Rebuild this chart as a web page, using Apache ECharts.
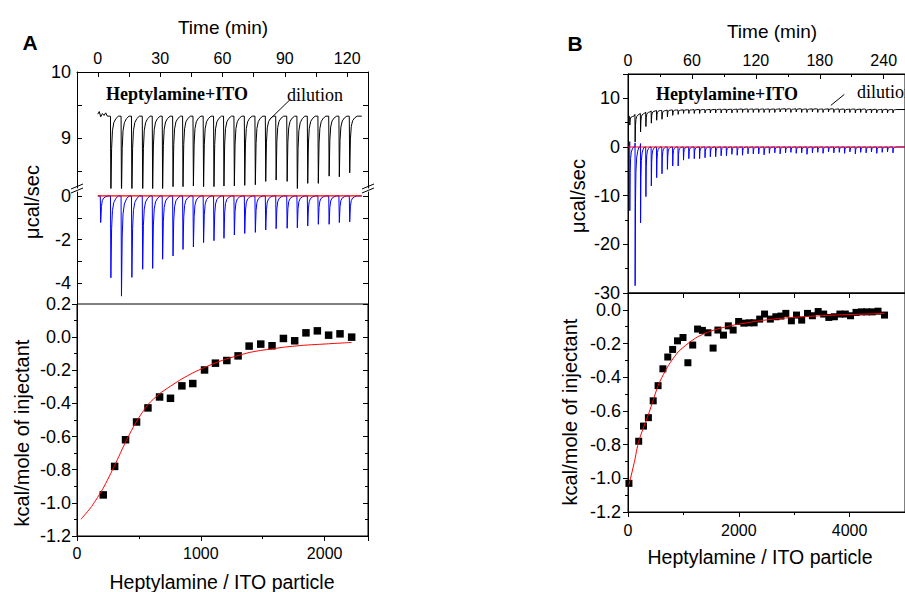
<!DOCTYPE html>
<html><head><meta charset="utf-8">
<script src="https://cdn.jsdelivr.net/npm/echarts@6/dist/echarts.min.js"></script>
<style>html,body{margin:0;padding:0;background:#fff}#c{width:905px;height:592px}</style>
</head><body><div id="c"></div>
<script>
// ---------------- Panel A: raw thermogram (time in min) ----------------
const injTimesA = [1.2, 6.1, 11.2, 16.2, 21.4, 26.2, 31, 36, 40.8, 45.8, 50.7, 55.7, 60.5, 65.5, 70.5, 75.6, 80.6, 85.6, 90.9, 95.8, 100.8, 105.9, 111.1, 116, 121];
const bluePeakA = [-1.22, -3.75, -4.59, -3.73, -3.36, -3.32, -2.90, -2.75, -2.45, -2.34, -2.14, -2.05, -1.94, -1.79, -1.72, -1.67, -1.56, -1.50, -1.48, -1.46, -1.38, -1.30, -1.30, -1.22, -1.19];
const blackTimesA = [6.1, 11.2, 16.2, 21.4, 26.2, 31, 36, 40.8, 45.8, 50.7, 55.7, 60.5, 65.5, 70.5, 75.6, 80.6, 85.6, 90.9, 95.8, 100.8, 105.9, 111.1, 116, 121];
const blackPeakA = [8.1, 8.1, 8.1, 8.1, 8.2, 8.22, 8.26, 8.26, 8.27, 8.26, 8.26, 8.27, 8.27, 8.28, 8.29, 8.34, 8.36, 8.34, 8.1, 8.31, 8.31, 8.42, 8.41, 8.47];
const blackBaseA = 9.33;
const blackStartA = [[0, 9.36], [0.7, 9.40], [1.4, 9.32], [2.2, 9.37], [3.0, 9.34], [3.8, 9.38], [4.6, 9.33], [5.5, 9.33]];
const endTimeA = 127;
const redBaseA = [[0, 0], [127, 0]];
const arrowA = [[92.8, 9.59], [82.7, 9.28]];

// ---------------- Panel A: integrated heats ----------------
const ratioA = [212, 304, 392, 481, 573, 667, 755, 847, 935, 1030, 1118, 1210, 1301, 1390, 1484, 1575, 1667, 1758, 1849, 1941, 2032, 2124, 2218];
const heatA = [-0.952, -0.780, -0.619, -0.512, -0.427, -0.361, -0.369, -0.294, -0.280, -0.198, -0.157, -0.141, -0.113, -0.054, -0.042, -0.052, -0.008, -0.022, 0.026, 0.038, 0.012, 0.020, 0.000];
const fitRatioA = [32, 118, 212, 304, 401, 481, 573, 667, 755, 847, 935, 1030, 1118, 1210, 1301, 1390, 1484, 1575, 1667, 1758, 1849, 1941, 2032, 2124, 2218];
const fitHeatA = [-1.099, -1.022, -0.911, -0.774, -0.619, -0.508, -0.407, -0.341, -0.296, -0.252, -0.216, -0.183, -0.155, -0.131, -0.111, -0.093, -0.080, -0.071, -0.061, -0.054, -0.048, -0.044, -0.040, -0.036, -0.032];

// ---------------- Panel B: raw thermogram ----------------
const injTimesB = [1.5, 6.5, 11.6, 16.6, 21.7, 26.7, 31.7, 36.8, 41.8, 46.9, 51.9, 56.9, 62.0, 67.0, 72.1, 77.1, 82.1, 87.2, 92.2, 97.3, 102.3, 107.3, 112.4, 117.4, 122.5, 127.5, 132.5, 137.6, 142.6, 147.7, 152.7, 157.7, 162.8, 167.8, 172.9, 177.9, 182.9, 188.0, 193.0, 198.1, 203.1, 208.1, 213.2, 218.2, 223.3, 228.3, 233.3, 238.4, 243.4, 248.5];
const bluePeakB = [-13.1, -28.5, -15.6, -10.2, -8.0, -6.3, -5.5, -4.6, -3.9, -3.9, -2.7, -2.4, -2.4, -2.4, -2.2, -2.0, -2.0, -1.8, -1.8, -1.5, -1.7, -1.7, -1.4, -1.4, -1.4, -1.6, -1.3, -1.2, -1.4, -1.2, -1.1, -1.3, -1.2, -1.5, -1.2, -1.1, -1.3, -1.0, -1.2, -1.1, -1.3, -1.0, -1.4, -1.1, -1.2, -1.0, -1.3, -1.1, -1.0, -1.2];
const blueRiseB = [1.1, 0.8, 0.7];
const blackBaseB = [6.3, 6.7, 6.9, 7.2, 7.4, 7.5, 7.5, 7.6, 7.6, 7.6, 7.65, 7.65, 7.7, 7.7, 7.7, 7.7, 7.75, 7.75, 7.75, 7.75, 7.8, 7.8, 7.8, 7.8, 7.8, 7.8, 7.8, 7.8, 7.85, 7.85, 7.8, 7.85, 7.8, 7.8, 7.85, 7.8, 7.8, 7.85, 7.8, 7.8, 7.75, 7.8, 7.75, 7.8, 7.7, 7.75, 7.7, 7.75, 7.7, 7.7];
const blackPeakB = [4.5, 1.0, 3.1, 4.2, 4.9, 5.5, 5.7, 6.2, 6.5, 6.7, 6.9, 6.9, 6.9, 6.9, 7.0, 7.0, 7.0, 7.0, 7.0, 7.0, 7.1, 7.1, 7.1, 7.1, 7.1, 7.1, 7.1, 7.1, 7.2, 7.2, 7.1, 7.2, 7.1, 7.1, 7.2, 7.1, 7.1, 7.2, 7.1, 7.1, 7.0, 7.1, 7.0, 7.1, 7.0, 7.0, 7.0, 7.0, 7.0, 7.0];
const blackStartB = [[0, 6.2]];
const blueStartB = [[0, 0]];
const endTimeB = 260;
const redBaseB = [[0, 0], [260, 0]];
const arrowB = [[203, 10.8], [190.4, 8.55]];

// ---------------- Panel B: integrated heats ----------------
const ratioB = [17, 193, 280, 368, 455, 543, 630, 718, 806, 893, 993, 1081, 1168, 1256, 1343, 1443, 1536, 1623, 1723, 1811, 1898, 1997, 2091, 2189, 2277, 2377, 2465, 2569, 2669, 2760, 2849, 2949, 3042, 3135, 3240, 3328, 3433, 3532, 3625, 3725, 3825, 3923, 4017, 4116, 4215, 4308, 4408, 4513, 4630];
const heatB = [-1.03, -0.78, -0.69, -0.64, -0.54, -0.45, -0.35, -0.28, -0.235, -0.184, -0.164, -0.314, -0.209, -0.114, -0.122, -0.136, -0.227, -0.12, -0.15, -0.095, -0.12, -0.069, -0.079, -0.077, -0.077, -0.055, -0.025, -0.055, -0.041, -0.037, -0.021, -0.065, -0.031, -0.061, -0.021, -0.035, -0.01, -0.025, -0.045, -0.041, -0.025, -0.025, -0.035, -0.015, -0.012, -0.012, -0.012, -0.008, -0.031];
const fitRatioB = [17, 117, 193, 380, 555, 730, 905, 1081, 1256, 1431, 1606, 1781, 1956, 2131, 2306, 2700, 3100, 3475, 3900, 4300, 4630];
const fitHeatB = [-1.04, -0.90, -0.78, -0.61, -0.44, -0.33, -0.25, -0.20, -0.16, -0.134, -0.114, -0.10, -0.087, -0.078, -0.068, -0.052, -0.042, -0.035, -0.029, -0.025, -0.021];

// shape of one injection peak: [minutes after injection, fraction of the depth]
const spikeShape = [[0.2, 1], [0.55, 0.4], [0.95, 0.18], [1.6, 0.08], [2.6, 0.03], [3.8, 0]];

// ---------------- build ----------------
function buildTrace(startPts, endT, times, bases, peaks, rises) {
  const out = startPts.slice();
  times.forEach((t, i) => {
    const b = bases[i];
    out.push([t, b]);
    if (rises && rises[i]) out.push([t + 0.1, rises[i]]);
    spikeShape.forEach(([dt, f]) => out.push([t + dt, +(b + f * (peaks[i] - b)).toFixed(3)]));
  });
  out.push([endT, bases[bases.length - 1]]);
  return out;
}
const zip = (a, b) => a.map((v, i) => [v, b[i]]);

const blackA = buildTrace(blackStartA, endTimeA, blackTimesA, blackTimesA.map(() => blackBaseA), blackPeakA);
const blueA = buildTrace([[0, 0]], endTimeA, injTimesA, injTimesA.map(() => 0), bluePeakA);
const blackB = buildTrace(blackStartB, endTimeB, injTimesB, blackBaseB, blackPeakB);
const blueB = buildTrace(blueStartB, endTimeB, injTimesB, injTimesB.map(() => 0), bluePeakB, blueRiseB);

const SANS = '"Liberation Sans", Arial, sans-serif';
const SERIF = '"Liberation Serif", "Times New Roman", serif';
const BLK = { color: '#000', width: 1 };
const fmt1 = v => Math.abs(v) < 1e-9 ? '0.0' : v.toFixed(1);
const fmt0 = v => String(Math.round(v));
const xLab = { color: '#000', fontSize: 16, fontFamily: SANS };
const yLab = { color: '#000', fontSize: 18, fontFamily: SANS };
const LINE = { show: true, onZero: false, lineStyle: BLK };

const chart = echarts.init(document.getElementById('c'), null, { renderer: 'svg' });

const GA = { left: 77, width: 291 };
const GB = { left: 628, width: 286 };

const option = {
  animation: false,
  backgroundColor: '#fff',
  grid: [
    { left: GA.left, width: GA.width, top: 72, height: 116 },
    { left: GA.left, width: GA.width, top: 192, height: 112 },
    { left: GA.left, width: GA.width, top: 304, height: 232, show: true, borderColor: '#000', borderWidth: 1 },
    { left: GB.left, width: GB.width, top: 74, height: 219, show: true, borderColor: '#000', borderWidth: 1 },
    { left: GB.left, width: GB.width, top: 293, height: 219, show: true, borderColor: '#000', borderWidth: 1 }
  ],
  xAxis: [
    { gridIndex: 0, type: 'value', position: 'top', min: -10, max: 130,
      axisLine: LINE,
      axisTick: { show: true, inside: true, length: 5, lineStyle: BLK, customValues: [0, 15, 30, 45, 60, 75, 90, 105, 120] },
      axisLabel: Object.assign({ margin: 6, customValues: [0, 30, 60, 90, 120], formatter: fmt0 }, xLab),
      splitLine: { show: false } },
    { gridIndex: 1, type: 'value', min: -10, max: 130, show: false, axisLine: { onZero: false } },
    { gridIndex: 2, type: 'value', min: 0, max: 2350, interval: 1000,
      axisLine: LINE,
      axisTick: { show: true, inside: false, length: 5, lineStyle: BLK },
      minorTick: { show: true, splitNumber: 2, length: 3, lineStyle: BLK },
      axisLabel: Object.assign({ margin: 9, showMaxLabel: false, formatter: fmt0 }, xLab),
      splitLine: { show: false } },
    { gridIndex: 3, type: 'value', position: 'top', min: 0, max: 260, interval: 60,
      axisLine: LINE,
      axisTick: { show: true, inside: true, length: 5, lineStyle: BLK },
      minorTick: { show: true, splitNumber: 2, length: 3, lineStyle: BLK },
      axisLabel: Object.assign({ margin: 6, showMaxLabel: false, formatter: fmt0 }, xLab),
      splitLine: { show: false } },
    { gridIndex: 4, type: 'value', min: 0, max: 5000, interval: 2000,
      axisLine: LINE,
      axisTick: { show: true, inside: false, length: 5, lineStyle: BLK },
      minorTick: { show: true, splitNumber: 2, length: 3, lineStyle: BLK },
      axisLabel: Object.assign({ margin: 10, showMaxLabel: false, formatter: fmt0 }, xLab),
      splitLine: { show: false } },
    { gridIndex: 4, type: 'value', position: 'top', min: 0, max: 5000, interval: 1000,
      axisLine: LINE,
      axisTick: { show: true, inside: true, length: 5, lineStyle: BLK },
      axisLabel: { show: false }, splitLine: { show: false } }
  ],
  yAxis: [
    { gridIndex: 0, type: 'value', min: 8.24, max: 10,
      axisLine: LINE,
      axisTick: { show: true, inside: true, length: 5, lineStyle: BLK, customValues: [8.5, 9, 9.5, 10] },
      axisLabel: Object.assign({ margin: 6, customValues: [9, 10] }, yLab),
      splitLine: { show: false } },
    { gridIndex: 0, type: 'value', position: 'right', min: 8.24, max: 10,
      axisLine: LINE,
      axisTick: { show: true, inside: true, length: 5, lineStyle: BLK, customValues: [8.5, 9, 9.5, 10] },
      axisLabel: { show: false }, splitLine: { show: false } },
    { gridIndex: 1, type: 'value', min: -4.95, max: 0.18,
      axisLine: LINE,
      axisTick: { show: true, inside: true, length: 5, lineStyle: BLK, customValues: [-4, -3, -2, -1, 0] },
      axisLabel: Object.assign({ margin: 6, customValues: [-4, -2, 0] }, yLab),
      splitLine: { show: false } },
    { gridIndex: 1, type: 'value', position: 'right', min: -4.95, max: 0.18,
      axisLine: LINE,
      axisTick: { show: true, inside: true, length: 5, lineStyle: BLK, customValues: [-4, -3, -2, -1, 0] },
      axisLabel: { show: false }, splitLine: { show: false } },
    { gridIndex: 2, type: 'value', min: -1.2, max: 0.2, interval: 0.2,
      axisLine: LINE,
      axisTick: { show: true, inside: false, length: 5, lineStyle: BLK },
      minorTick: { show: true, splitNumber: 2, length: 3, lineStyle: BLK },
      axisLabel: Object.assign({ margin: 6, formatter: fmt1 }, yLab),
      splitLine: { show: false } },
    { gridIndex: 2, type: 'value', position: 'right', min: -1.2, max: 0.2, interval: 0.2,
      axisLine: LINE,
      axisTick: { show: true, inside: true, length: 5, lineStyle: BLK },
      minorTick: { show: true, splitNumber: 2, length: 3, lineStyle: BLK },
      axisLabel: { show: false }, splitLine: { show: false } },
    { gridIndex: 3, type: 'value', min: -30, max: 15, interval: 10,
      axisLine: LINE,
      axisTick: { show: true, inside: false, length: 5, lineStyle: BLK },
      minorTick: { show: true, splitNumber: 2, length: 3, lineStyle: BLK },
      axisLabel: Object.assign({ margin: 8, showMaxLabel: false }, yLab),
      splitLine: { show: false } },
    { gridIndex: 4, type: 'value', min: -1.2, max: 0.1, interval: 0.2,
      axisLine: LINE,
      axisTick: { show: true, inside: false, length: 5, lineStyle: BLK },
      minorTick: { show: true, splitNumber: 2, length: 3, lineStyle: BLK },
      axisLabel: Object.assign({ margin: 7, showMaxLabel: false, formatter: fmt1 }, yLab),
      splitLine: { show: false } }
  ],
  series: [
    { type: 'line', name: 'dilution A', xAxisIndex: 0, yAxisIndex: 0, data: blackA, showSymbol: false, symbol: 'none',
      lineStyle: { color: '#000', width: 1 }, clip: true, z: 3,
      markLine: { silent: true, symbol: ['none', 'arrow'], symbolSize: [0, 8], label: { show: false },
        lineStyle: { color: '#000', width: 1, type: 'solid' },
        data: [[{ coord: arrowA[0] }, { coord: arrowA[1] }]] } },
    { type: 'line', name: 'titration A', xAxisIndex: 1, yAxisIndex: 2, data: blueA, showSymbol: false, symbol: 'none',
      lineStyle: { color: '#0000ff', width: 1 }, clip: true, z: 3 },
    { type: 'line', name: 'baseline A', xAxisIndex: 1, yAxisIndex: 2, data: redBaseA, showSymbol: false, symbol: 'none',
      lineStyle: { color: '#ff0000', width: 1.2 }, z: 4 },
    { type: 'line', name: 'fit A', xAxisIndex: 2, yAxisIndex: 4, data: zip(fitRatioA, fitHeatA), showSymbol: false, symbol: 'none',
      smooth: 0.2, lineStyle: { color: '#ff0000', width: 1 }, z: 4 },
    { type: 'scatter', name: 'heat A', xAxisIndex: 2, yAxisIndex: 4, data: zip(ratioA, heatA), symbol: 'rect', symbolSize: 7.5,
      itemStyle: { color: '#000', opacity: 1 }, z: 3 },
    { type: 'line', name: 'dilution B', xAxisIndex: 3, yAxisIndex: 6, data: blackB, showSymbol: false, symbol: 'none',
      lineStyle: { color: '#000', width: 1 }, clip: true, z: 3,
      markLine: { silent: true, symbol: ['none', 'arrow'], symbolSize: [0, 8], label: { show: false },
        lineStyle: { color: '#000', width: 1, type: 'solid' },
        data: [[{ coord: arrowB[0] }, { coord: arrowB[1] }]] } },
    { type: 'line', name: 'titration B', xAxisIndex: 3, yAxisIndex: 6, data: blueB, showSymbol: false, symbol: 'none',
      lineStyle: { color: '#0000ff', width: 1 }, clip: true, z: 3 },
    { type: 'line', name: 'baseline B', xAxisIndex: 3, yAxisIndex: 6, data: redBaseB, showSymbol: false, symbol: 'none',
      lineStyle: { color: '#ff0000', width: 1.2 }, z: 4 },
    { type: 'line', name: 'fit B', xAxisIndex: 4, yAxisIndex: 7, data: zip(fitRatioB, fitHeatB), showSymbol: false, symbol: 'none',
      smooth: 0.2, lineStyle: { color: '#ff0000', width: 1 }, z: 4 },
    { type: 'scatter', name: 'heat B', xAxisIndex: 4, yAxisIndex: 7, data: zip(ratioB, heatB), symbol: 'rect', symbolSize: 7,
      itemStyle: { color: '#000', opacity: 1 }, z: 3 }
  ]
};

// text and break marks
function txt(x, y, text, font, align, rot) {
  return { type: 'text', x: x, y: y, rotation: rot || 0, z: 10,
    style: { text: text, font: font, fill: '#000', textAlign: align || 'center', textVerticalAlign: 'middle', align: align || 'center', verticalAlign: 'middle' } };
}
function brk(x, y) {
  return [
    { type: 'line', z: 10, shape: { x1: x - 6, y1: y + 2, x2: x + 6, y2: y - 3 }, style: { stroke: '#000', lineWidth: 1 } },
    { type: 'line', z: 10, shape: { x1: x - 6, y1: y + 6, x2: x + 6, y2: y + 1 }, style: { stroke: '#000', lineWidth: 1 } }
  ];
}
const R = Math.PI / 2;
option.graphic = [
  txt(30, 42, 'A', 'bold 21px ' + SANS),
  txt(575, 43, 'B', 'bold 21px ' + SANS),
  txt(223, 27, 'Time (min)', '19px ' + SANS),
  txt(772, 31, 'Time (min)', '19px ' + SANS),
  txt(32, 202, 'μcal/sec', '20px ' + SANS, 'center', R),
  txt(22, 433, 'kcal/mole of injectant', '20px ' + SANS, 'center', R),
  txt(222, 582, 'Heptylamine / ITO particle', '19.5px ' + SANS),
  txt(578, 196, 'μcal/sec', '20px ' + SANS, 'center', R),
  txt(570, 412, 'kcal/mole of injectant', '20px ' + SANS, 'center', R),
  txt(760, 557, 'Heptylamine / ITO particle', '19.5px ' + SANS),
  txt(106, 94, 'Heptylamine+ITO', 'bold 18px ' + SERIF, 'left'),
  txt(287, 95, 'dilution', '18px ' + SERIF, 'left'),
  txt(656, 94, 'Heptylamine+ITO', 'bold 18px ' + SERIF, 'left'),
  txt(857, 92, 'dilution', '18px ' + SERIF, 'left')
].concat(brk(77, 187), brk(368, 187));

chart.setOption(option);
</script>
</body></html>
